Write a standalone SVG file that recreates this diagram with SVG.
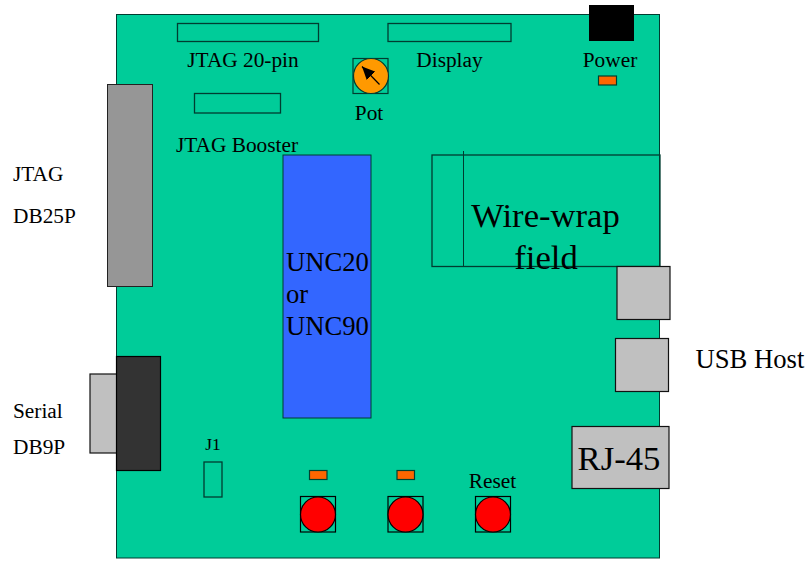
<svg xmlns="http://www.w3.org/2000/svg" width="809" height="561" viewBox="0 0 809 561">
<defs>
<marker id="ah" markerUnits="userSpaceOnUse" markerWidth="14" markerHeight="12" refX="13" refY="6" orient="auto"><path d="M0 0L13 6L0 12Z" fill="#000"/></marker>
</defs>
<style>
text{font-family:"Liberation Serif","Times New Roman",serif;fill:#000}
.t20{font-size:21.33px}
.t26{font-size:26.67px}
.t33{font-size:34.67px}
.b{fill:none;stroke:#003c30;stroke-width:1.3}
.g{fill:#c0c0c0;stroke:#111;stroke-width:1.2}
.led{fill:#ff6600;stroke:#004030;stroke-width:1.2}
.btn{fill:#ff0000;stroke:#000;stroke-width:1.2}
.sq{fill:none;stroke:#000;stroke-width:1.2}
</style>
<rect width="809" height="561" fill="#fff"/>
<g id="board"><rect x="116.5" y="14.5" width="543" height="543.5" fill="#00cc99" stroke="#003c30" stroke-width="1"/></g>
<g id="power"><rect x="589" y="5" width="45" height="36" fill="#000"/><text class="t20" x="610" y="67" text-anchor="middle">Power</text><rect class="led" x="598.5" y="76" width="18" height="9"/></g>
<g id="display"><rect class="b" x="388" y="23.500" width="123" height="18"/><text class="t20" x="449.500" y="67" text-anchor="middle">Display</text></g>
<g id="pot"><rect x="353" y="58.500" width="35" height="35" fill="none" stroke="#003c30" stroke-width="1.200"/><circle cx="371" cy="76" r="17.500" fill="#ff9900" stroke="#003c30" stroke-width="1.200"/><line x1="379.500" y1="84.500" x2="362" y2="66.500" stroke="#000" stroke-width="1.200" marker-end="url(#ah)"/><text class="t20" x="369" y="120" text-anchor="middle">Pot</text></g>
<g id="jtag20"><rect class="b" x="177.500" y="23.500" width="141" height="18"/><text class="t20" x="243" y="67" text-anchor="middle">JTAG 20-pin</text></g>
<g id="booster"><rect class="b" x="194.500" y="93.500" width="86" height="19.500"/><text class="t20" x="237" y="152" text-anchor="middle">JTAG Booster</text></g>
<g id="db25"><rect x="107.500" y="84.500" width="45" height="202" fill="#969696" stroke="#222" stroke-width="1"/><text class="t20" x="13" y="181">JTAG</text><text class="t20" x="13" y="223">DB25P</text></g>
<g id="chip"><rect x="283" y="155" width="88" height="263" fill="#3366ff" stroke="#003c30" stroke-width="1"/><text class="t26" x="286" y="271">UNC20</text><text class="t26" x="286" y="303">or</text><text class="t26" x="286" y="335">UNC90</text></g>
<g id="wirewrap"><rect class="b" x="432" y="155" width="228" height="111.500"/><line x1="463.500" y1="151" x2="463.500" y2="266.500" stroke="#003c30" stroke-width="1"/><text class="t33" x="545.500" y="227" text-anchor="middle">Wire-wrap</text><text class="t33" x="546" y="269" text-anchor="middle">field</text></g>
<g id="usb1"><rect class="g" x="617" y="266.500" width="53" height="53"/></g>
<g id="usb2"><rect class="g" x="615.500" y="338.500" width="53" height="53"/><text class="t26" x="695.500" y="368">USB Host</text></g>
<g id="rj45"><rect class="g" x="572" y="426.500" width="97" height="62"/><text class="t33" x="619" y="470" text-anchor="middle">RJ-45</text></g>
<g id="serial"><rect class="g" x="90" y="374" width="27" height="79"/><rect x="116.500" y="356.500" width="44" height="114" fill="#333" stroke="#000" stroke-width="1.200"/><text class="t20" x="13" y="418">Serial</text><text class="t20" x="13" y="454">DB9P</text></g>
<g id="j1"><rect class="b" x="204" y="462" width="18" height="35"/><text x="213" y="450" text-anchor="middle" style="font-size:17.33px">J1</text></g>
<g id="led1"><rect class="led" x="309.500" y="470.500" width="17.500" height="9"/></g>
<g id="led2"><rect class="led" x="397" y="470.500" width="17.500" height="9"/></g>
<g id="btn1"><rect class="sq" x="300.500" y="496.500" width="35" height="35.500"/><circle class="btn" cx="318" cy="514.500" r="17.500"/></g>
<g id="btn2"><rect class="sq" x="388" y="496.500" width="35" height="35.500"/><circle class="btn" cx="405.500" cy="514.500" r="17.500"/></g>
<g id="reset"><rect class="sq" x="475.500" y="496.500" width="35" height="35.500"/><circle class="btn" cx="493" cy="514.500" r="17.500"/><text class="t20" x="492.500" y="488" text-anchor="middle">Reset</text></g>
<g id="connectors"></g>
</svg>
